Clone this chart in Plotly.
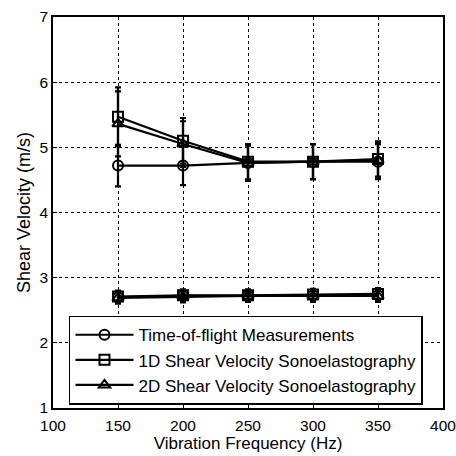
import plotly.graph_objects as go

freq = [150, 200, 250, 300, 350]

# upper phantom
tof_hi = [4.72, 4.72, 4.76, 4.78, 4.78]
tof_hi_err = [0.32, 0.30, 0.27, 0.27, 0.27]
sono1d_hi = [5.47, 5.10, 4.78, 4.78, 4.82]
sono1d_hi_err = [0.45, 0.35, 0.27, 0.27, 0.27]
sono2d_hi = [5.36, 5.05, 4.76, 4.78, 4.80]
sono2d_hi_err = [0.50, 0.35, 0.27, 0.27, 0.27]

# lower phantom
tof_lo = [2.70, 2.72, 2.72, 2.73, 2.73]
tof_lo_err = [0.08, 0.08, 0.08, 0.08, 0.08]
sono1d_lo = [2.71, 2.73, 2.73, 2.74, 2.75]
sono1d_lo_err = [0.09, 0.09, 0.09, 0.09, 0.09]
sono2d_lo = [2.69, 2.71, 2.72, 2.72, 2.72]
sono2d_lo_err = [0.09, 0.09, 0.09, 0.09, 0.09]

names = ["Time-of-flight Measurements",
         "1D Shear Velocity Sonoelastography",
         "2D Shear Velocity Sonoelastography"]
symbols = ["circle-open", "square-open", "triangle-up-open"]

series = [
    (tof_hi, tof_hi_err, tof_lo, tof_lo_err),
    (sono1d_hi, sono1d_hi_err, sono1d_lo, sono1d_lo_err),
    (sono2d_hi, sono2d_hi_err, sono2d_lo, sono2d_lo_err),
]

FONT = "Liberation Sans, Arial, Helvetica"

fig = go.Figure()
for (hi, hi_e, lo, lo_e), name, sym in zip(series, names, symbols):
    for ys, es, show in ((hi, hi_e, True), (lo, lo_e, False)):
        fig.add_trace(go.Scatter(
            x=freq, y=ys, name=name, showlegend=show, mode="lines+markers",
            line=dict(color="black", width=2.2),
            marker=dict(symbol=sym, size=10, color="black",
                        line=dict(color="black", width=2)),
            error_y=dict(type="data", array=es, visible=True,
                         color="black", thickness=2.2, width=3),
        ))

axis_common = dict(
    showline=True, linecolor="black", linewidth=1.5, mirror=True,
    ticks="inside", ticklen=4, tickcolor="black",
    showgrid=True, gridcolor="black", griddash="dot", gridwidth=1.2,
    zeroline=False, automargin=False, ticklabeloverflow="allow",
    tickfont=dict(family=FONT, size=15.5, color="black"),
)

fig.update_layout(
    width=456, height=456,
    margin=dict(l=53, r=13, t=17, b=48),
    paper_bgcolor="white", plot_bgcolor="white",
    font=dict(family=FONT, color="black"),
    xaxis=dict(range=[100, 400], tickvals=[100, 150, 200, 250, 300, 350, 400],
               ticklabelstandoff=3,
               title=dict(text="Vibration Frequency (Hz)",
                          font=dict(size=17), standoff=2),
               **axis_common),
    yaxis=dict(range=[1, 7], tickvals=[1, 2, 3, 4, 5, 6, 7],
               title=dict(text="Shear Velocity (m/s)",
                          font=dict(size=18), standoff=4),
               **axis_common),
    legend=dict(x=0.041, y=0.236, xanchor="left", yanchor="top",
                bgcolor="white", bordercolor="black", borderwidth=1.5,
                font=dict(size=17, color="black"),
                tracegroupgap=0, itemwidth=58),
    showlegend=True,
)

fig.write_html("out.html")
